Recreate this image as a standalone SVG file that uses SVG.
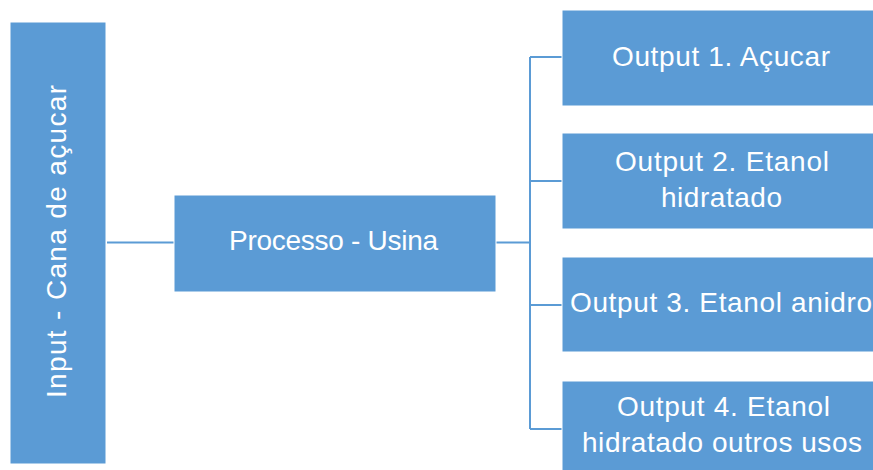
<svg xmlns="http://www.w3.org/2000/svg" width="873" height="470" viewBox="0 0 873 470">
<style>
.box{fill:#5B9BD5;stroke:#ffffff;stroke-width:1}
.lbl{font-family:"Liberation Sans",Arial,sans-serif;font-size:28px;fill:#ffffff;text-anchor:middle}
.con{fill:none;stroke:#5B9BD5;stroke-width:2}
</style>
<rect width="873" height="470" fill="#ffffff"/>
<g id="connectors">
<path class="con" d="M107,242.5 H174"/>
<path class="con" d="M496,242.5 H530"/>
<path class="con" d="M530,57 V429"/>
<path class="con" d="M530,57 H562 M530,181 H562 M530,305 H562 M530,429 H562"/>
</g>
<g id="input">
<rect class="box" x="10" y="22" width="96" height="442"/>
<text class="lbl" transform="translate(66,241.5) rotate(-90)" x="0" y="0" textLength="313">Input - Cana de açucar</text>
</g>
<g id="processo">
<rect class="box" x="174" y="195" width="322" height="97"/>
<text class="lbl" x="333.5" y="250" textLength="209">Processo - Usina</text>
</g>
<g id="output1">
<rect class="box" x="562" y="10" width="318" height="96"/>
<text class="lbl" x="721" y="66" textLength="218">Output 1. Açucar</text>
</g>
<g id="output2">
<rect class="box" x="562" y="133" width="318" height="96"/>
<text class="lbl" x="722" y="171" textLength="214">Output 2. Etanol</text>
<text class="lbl" x="721.5" y="207" textLength="121">hidratado</text>
</g>
<g id="output3">
<rect class="box" x="562" y="257" width="318" height="95"/>
<text class="lbl" x="721" y="312" textLength="302">Output 3. Etanol anidro</text>
</g>
<g id="output4">
<rect class="box" x="562" y="381" width="318" height="96"/>
<text class="lbl" x="723.5" y="416" textLength="213">Output 4. Etanol</text>
<text class="lbl" x="722" y="452" textLength="280">hidratado outros usos</text>
</g>
</svg>
